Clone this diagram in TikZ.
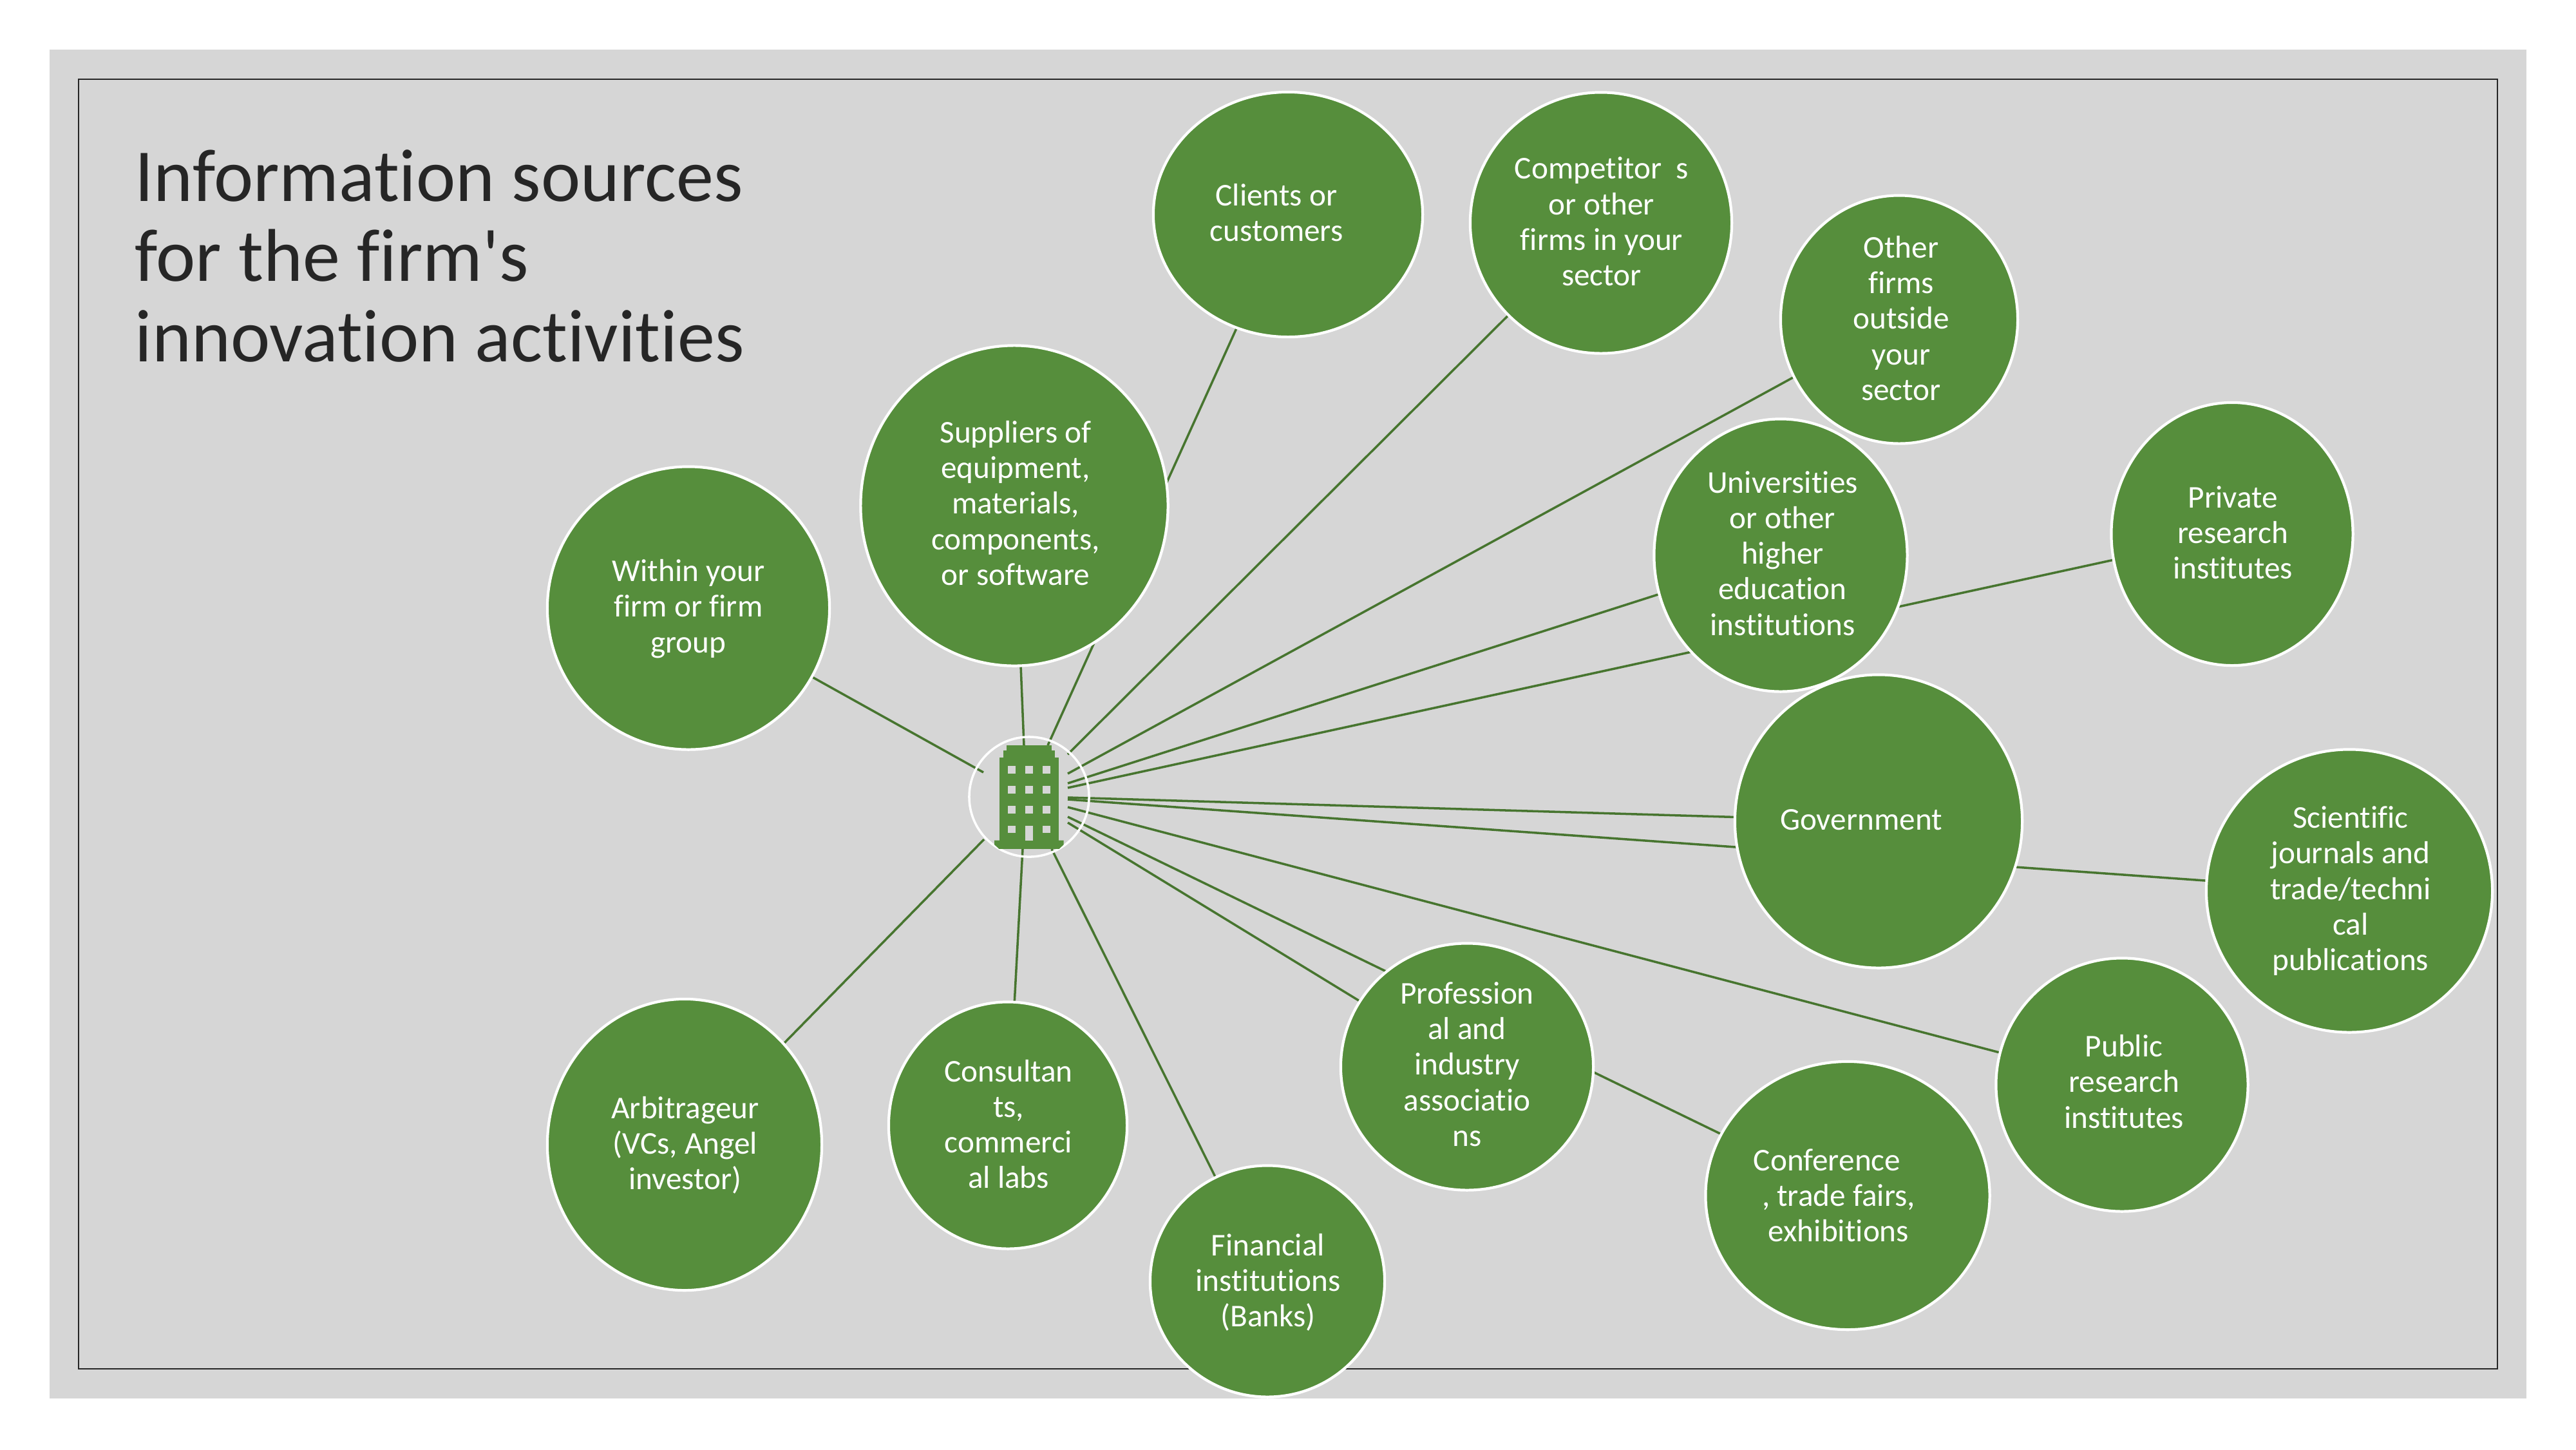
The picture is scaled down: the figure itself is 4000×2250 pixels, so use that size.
\documentclass[tikz,border=0pt]{standalone}
\usepackage{fontspec}
\setmainfont{Carlito}
\newfontfamily\carl{Carlito}[Ligatures=NoCommon]
\usetikzlibrary{shapes.geometric}
\definecolor{pagegray}{HTML}{D6D6D6}
\definecolor{blobgreen}{HTML}{568E3C}
\definecolor{linkgreen}{HTML}{47752F}
\definecolor{framedark}{HTML}{262626}
\tikzset{
  x=0.01cm,y=-0.01cm,
  blob/.style={shape=ellipse,draw=white,line width=1.2pt,fill=blobgreen,inner sep=0pt},
  lbl/.style={text=white,align=center,inner sep=0pt,font=\carl\fontsize{14}{15.7}\selectfont},
  link/.style={draw=linkgreen,line width=1pt},
  titletext/.style={text=framedark,align=left,inner sep=0pt,anchor=west,font=\carl\fontsize{33}{35.4}\selectfont},
  bld/.style={fill=blobgreen,draw=none},
  win/.style={fill=pagegray,draw=none},
}
\begin{document}
\begin{tikzpicture}
\useasboundingbox (0,0) rectangle (4000,2250);
\fill[white] (0,0) rectangle (4000,2250);
\fill[pagegray] (77,77) rectangle (3923,2171);
\draw[framedark,line width=0.7pt] (122,123) rectangle (3878,2125);
\node[titletext] (title) at (209,397) {Information sources\\for the firm's\\innovation activities};

% hub and connector start points
\coordinate (sWithin) at (1527,1199);
\coordinate (sSupp) at (1590,1157);
\coordinate (sClients) at (1627,1157);
\coordinate (sComp) at (1658,1171);
\coordinate (sOther) at (1658,1201);
\coordinate (sUniv) at (1658,1216);
\coordinate (sPriv) at (1658,1223);
\coordinate (sGov) at (1658,1238);
\coordinate (sSci) at (1658,1241);
\coordinate (sPub) at (1658,1253);
\coordinate (sConf) at (1658,1268);
\coordinate (sProf) at (1658,1277);
\coordinate (sFin) at (1633,1318);
\coordinate (sCons) at (1588,1318);
\coordinate (sArb) at (1528,1303);

% anchors at ellipse centres, connectors run beneath the ellipses
\coordinate (cClients) at (2000,333);
\coordinate (cComp) at (2486,346);
\coordinate (cOther) at (2949,496);
\coordinate (cPriv) at (3466,829);
\coordinate (cUniv) at (2765,862);
\coordinate (cSupp) at (1575,785);
\coordinate (cWithin) at (1069,944);
\coordinate (cGov) at (2917,1275);
\coordinate (cSci) at (3648,1383);
\coordinate (cPub) at (3295,1684);
\coordinate (cConf) at (2869,1856);
\coordinate (cProf) at (2278,1656);
\coordinate (cFin) at (1968,1989);
\coordinate (cCons) at (1565,1747);
\coordinate (cArb) at (1063,1777);

\draw[link] (sWithin) -- (cWithin);
\draw[link] (sSupp) -- (cSupp);
\draw[link] (sClients) -- (cClients);
\draw[link] (sComp) -- (cComp);
\draw[link] (sOther) -- (cOther);
\draw[link] (sUniv) -- (cUniv);
\draw[link] (sPriv) -- (cPriv);
\draw[link] (sGov) -- (cGov);
\draw[link] (sSci) -- (cSci);
\draw[link] (sPub) -- (cPub);
\draw[link] (sConf) -- (cConf);
\draw[link] (sProf) -- (cProf);
\draw[link] (sFin) -- (cFin);
\draw[link] (sCons) -- (cCons);
\draw[link] (sArb) -- (cArb);

% ellipses
\node[blob,minimum width=3.93cm,minimum height=4.23cm] (univ) at (cUniv) {};
\node[blob,minimum width=4.18cm,minimum height=3.80cm] (clients) at (cClients) {};
\node[blob,minimum width=4.06cm,minimum height=4.05cm] (comp) at (cComp) {};
\node[blob,minimum width=3.68cm,minimum height=3.85cm] (other) at (cOther) {};
\node[blob,minimum width=3.75cm,minimum height=4.08cm] (priv) at (cPriv) {};
\node[blob,minimum width=4.77cm,minimum height=4.97cm] (supp) at (cSupp) {};
\node[blob,minimum width=4.38cm,minimum height=4.39cm] (within) at (cWithin) {};
\node[blob,minimum width=4.46cm,minimum height=4.55cm] (gov) at (cGov) {};
\node[blob,minimum width=4.44cm,minimum height=4.39cm] (sci) at (cSci) {};
\node[blob,minimum width=3.91cm,minimum height=3.93cm] (pub) at (cPub) {};
\node[blob,minimum width=4.41cm,minimum height=4.16cm] (conf) at (cConf) {};
\node[blob,minimum width=3.92cm,minimum height=3.83cm] (prof) at (cProf) {};
\node[blob,minimum width=3.64cm,minimum height=3.59cm] (fin) at (cFin) {};
\node[blob,minimum width=3.70cm,minimum height=3.83cm] (cons) at (cCons) {};
\node[blob,minimum width=4.26cm,minimum height=4.52cm] (arb) at (cArb) {};

% labels
\node[lbl] (tClients) at (1982,330) {Clients or\\customers};
\node[lbl] (tComp) at (2487,344) {Competitor\ \ s\\or other\\firms in your\\sector};
\node[lbl] (tOther) at (2952,494) {Other\\firms\\outside\\your\\sector};
\node[lbl] (tPriv) at (3467,827) {Private\\research\\institutes};
\node[lbl] (tUniv) at (2768,859) {Universities\\or other\\higher\\education\\institutions};
\node[lbl] (tSupp) at (1577,781) {Suppliers of\\equipment,\\materials,\\components,\\or software};
\node[lbl] (tWithin) at (1069,945) {Within your\\firm or firm\\group};
\node[lbl] (tGov) at (2890,1273) {Government};
\node[lbl] (tSci) at (3650,1383) {Scientific\\journals and\\trade/techni\\cal\\publications};
\node[lbl] (tPub) at (3298,1679) {Public\\research\\institutes};
\node[lbl] (tConf) at (2855,1856) {Conference\hspace*{0.36cm}\\, trade fairs,\hspace*{0.24cm}\\exhibitions};
\node[lbl] (tProf) at (2278,1652) {Profession\\al and\\industry\\associatio\\ns};
\node[lbl] (tFin) at (1969,1991) {Financial\\institutions\\(Banks)};
\node[lbl] (tCons) at (1566,1745) {Consultan\\ts,\\commerci\\al labs};
\node[lbl] (tArb) at (1064,1778) {Arbitrageur\\(VCs, Angel\\investor)};

% hub ring
\node[shape=circle,draw=white,line width=1pt,fill=none,minimum size=1.86cm,inner sep=0pt] (hub) at (1598,1237) {};

% building icon, coordinates at 3x
\begin{scope}[shift={(1400,1050)},x=0.00333cm,y=-0.00333cm]
  \fill[bld] (491,322) rectangle (699,346);
  \fill[bld] (474,345) rectangle (716,381);
  \fill[bld] (457,380) rectangle (733,766);
  \fill[bld] (433,765) -- (756,765) -- (756,785) -- (735,805) -- (455,805) -- (433,785) -- cycle;
  \foreach \yy in {419,512,604,696} {
    \fill[win] (497,\yy) rectangle ++(35,35);
    \fill[win] (658,\yy) rectangle ++(35,35);
  }
  \foreach \yy in {419,512,604} {
    \fill[win] (578,\yy) rectangle ++(34,35);
  }
  \fill[win] (578,696) rectangle (612,765);
\end{scope}
\end{tikzpicture}
\end{document}
